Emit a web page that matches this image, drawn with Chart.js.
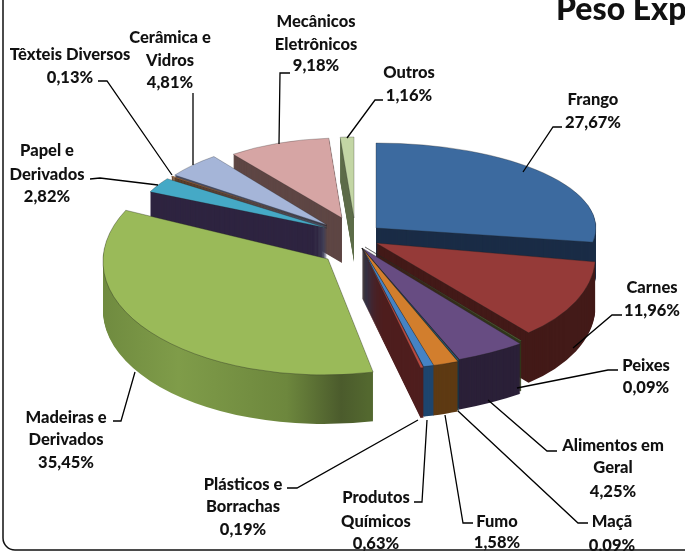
<!DOCTYPE html>
<html lang="pt-BR">
  <head>
    <meta charset="UTF-8" />
    <title>Peso Exportado</title>
    <script src="https://cdn.jsdelivr.net/npm/chart.js@4"></script>
    <style>
      html, body { margin: 0; padding: 0; background: #fff; overflow: hidden; }
      .chart-view { width: 685px; height: 551px; }
    </style>
  </head>
  <body>
    <div class="chart-view">
      <canvas id="chart"></canvas>
    </div>

    <script>
      //data
      const chartTitle = 'Peso Exp';
      const categories = ['Frango', 'Carnes', 'Peixes', 'Alimentos em Geral', 'Maçã', 'Fumo', 'Produtos Químicos',
        'Plásticos e Borrachas', 'Madeiras e Derivados', 'Papel e Derivados', 'Têxteis Diversos', 'Cerâmica e Vidros',
        'Mecânicos Eletrônicos', 'Outros'];
      const shares = [27.67, 11.96, 0.09, 4.25, 0.09, 1.58, 0.63, 0.19, 35.45, 2.82, 0.13, 4.81, 9.18, 1.16];

      //slice colours
      const topColors = ['#3c6a9f', '#953a38', '#5f7a3a', '#674c82', '#2a6f88', '#d27e2d', '#4583c4', '#b8483f',
        '#9aba59', '#45a9c6', '#c0763a', '#a5b5d8', '#d6a5a4', '#c3d6a5'];
      const wallColors = ['#1a2c46', '#431a18', '#2f3d1c', '#2b2038', '#14384a', '#5e3a13', '#1e466e', '#4f1e1e',
        '#6f8a3f', '#2e2440', '#5e3a1c', '#4a5068', '#5e4644', '#5e6e4a'];
      const woodWallStops = [[0, '#6f8a3f'], [0.3, '#7f9c49'], [0.7, '#6d873d'], [0.9, '#4b5b2c'], [1, '#53682f']];
      const woodIndex = 8;

      //3d view: pie centre, then per slice explosion and perspective radii
      const pieCenter = { x: 355, y: 240 };
      const explodeX = [21, 21, 10, 7, 7, 7, 7, 7, -27, -28, -28, -28, -13, -1];
      const explodeY = [-12, 3, 7, 8, 8, 8, 8, 8, 19, -12, -14, -15, -22, -22];
      const radiusX = [220, 218, 258, 263, 263, 263, 265, 265, 225, 195, 190, 187, 180, 190];
      const radiusY = [85, 113, 118, 120, 121, 122, 122, 123, 116, 86, 86, 86, 80, 81];
      const skewX = [0, 0.226, 0, 0, 0, 0, 0, 0, -0.04, 0, 0, 0, 0, 0];
      const depth = [46, 50, 50, 50, 50, 50, 50, 50, 49, 45, 45, 45, 45, 44];
      const drawOrder = [13, 12, 11, 10, 9, 8, 0, 1, 2, 3, 4, 5, 6, 7];

      //callouts
      const calloutLines = [
        { cx: 593, ys: [100, 123], lines: ['Frango', '27,67%'] },
        { cx: 652, ys: [288, 311], lines: ['Carnes', '11,96%'] },
        { cx: 646, ys: [366, 388], lines: ['Peixes', '0,09%'] },
        { cx: 613, ys: [446, 468, 492], lines: ['Alimentos em', 'Geral', '4,25%'] },
        { cx: 612, ys: [522, 546], lines: ['Maçã', '0,09%'] },
        { cx: 497, ys: [522, 543], lines: ['Fumo', '1,58%'] },
        { cx: 376, ys: [498, 522, 544], lines: ['Produtos', 'Químicos', '0,63%'] },
        { cx: 243, ys: [485, 507, 530], lines: ['Plásticos e', 'Borrachas', '0,19%'] },
        { cx: 66, ys: [418, 440, 463], lines: ['Madeiras e', 'Derivados', '35,45%'] },
        { cx: 47, ys: [151, 175, 197], lines: ['Papel e', 'Derivados', '2,82%'] },
        { cx: 70, ys: [55, 78], lines: ['Têxteis Diversos', '0,13%'] },
        { cx: 170, ys: [38, 61, 83], lines: ['Cerâmica e', 'Vidros', '4,81%'] },
        { cx: 316, ys: [22, 45, 66], lines: ['Mecânicos', 'Eletrônicos', '9,18%'] },
        { cx: 409, ys: [73, 96], lines: ['Outros', '1,16%'] }
      ];
      const leaderPaths = [
        [[562, 127], [553, 127], [523, 172]],
        [[622, 315], [612, 315], [573, 348]],
        [[618, 370], [608, 370], [517, 388]],
        [[557, 451], [547, 451], [488, 400]],
        [[588, 523], [578, 523], [458, 411]],
        [[473, 523], [463, 523], [445, 415]],
        [[414, 502], [422, 502], [427, 420]],
        [[287, 488], [297, 488], [418, 420]],
        [[113, 421], [121, 421], [135, 372]],
        [[90, 179], [100, 178], [158, 185]],
        [[98, 81], [107, 81], [172, 175]],
        [[193, 93], [193, 165]],
        [[290, 73], [280, 73], [279, 144]],
        [[383, 100], [375, 100], [347, 138]]
      ];

      //places one arc at its exploded spot, squashed flat
      function placeArc(ctx, arc, i, lift) {
        ctx.translate(pieCenter.x + explodeX[i], pieCenter.y + explodeY[i] + lift);
        ctx.transform(1, 0, skewX[i], 1, 0, 0);
        ctx.scale(radiusX[i] / arc.outerRadius, radiusY[i] / arc.outerRadius);
        ctx.translate(-arc.x, -arc.y);
      }

      //draws every arc element squashed and exploded, with a wall below it
      const pie3d = {
        id: 'pie3d',
        beforeDatasetDraw(chart, args) {
          const ctx = chart.ctx;
          const arcs = args.meta.data;
          drawOrder.forEach(function (i) {
            const arc = arcs[i];
            const topOptions = arc.options;

            let wallFill = wallColors[i];
            if (i === woodIndex) {
              const sx = radiusX[i] / arc.outerRadius;
              const ax = pieCenter.x + explodeX[i];
              const toLocal = function (x) { return arc.x + (x - ax) / sx; };
              wallFill = ctx.createLinearGradient(toLocal(100), 0, toLocal(373), 0);
              woodWallStops.forEach(function (s) { wallFill.addColorStop(s[0], s[1]); });
            }
            arc.options = Object.assign({}, topOptions, { backgroundColor: wallFill, borderWidth: 0 });
            for (let d = depth[i]; d >= 1; d--) {
              ctx.save();
              placeArc(ctx, arc, i, d);
              arc.draw(ctx);
              ctx.restore();
            }
            arc.options = topOptions;

            ctx.save();
            placeArc(ctx, arc, i, 0);
            arc.draw(ctx);
            ctx.restore();
          });
          return false;
        },
        afterDraw(chart) {
          const ctx = chart.ctx;
          ctx.save();

          //frame, only its left and bottom edges are inside the picture
          ctx.strokeStyle = '#111';
          ctx.lineWidth = 1.5;
          ctx.beginPath();
          ctx.roundRect(3, -20, 720, 570, 12);
          ctx.stroke();

          ctx.strokeStyle = '#000';
          ctx.lineWidth = 1.3;
          leaderPaths.forEach(function (path) {
            ctx.beginPath();
            path.forEach(function (p, n) {
              if (n === 0) ctx.moveTo(p[0], p[1]);
              else ctx.lineTo(p[0], p[1]);
            });
            ctx.stroke();
          });

          ctx.fillStyle = '#111';
          ctx.font = '900 16.5px Lato';
          ctx.textAlign = 'center';
          ctx.textBaseline = 'middle';
          calloutLines.forEach(function (c) {
            c.lines.forEach(function (text, n) {
              ctx.fillText(text, c.cx, c.ys[n]);
            });
          });

          ctx.font = '900 32px Lato';
          ctx.textAlign = 'left';
          ctx.textBaseline = 'alphabetic';
          ctx.fillText(chartTitle, 556, 20);
          ctx.restore();
        }
      };

      //config
      const config = {
        type: 'pie',
        data: {
          labels: categories,
          datasets: [{
            data: shares,
            backgroundColor: topColors,
            borderColor: 'rgba(30, 30, 30, 0.55)',
            borderWidth: 1
          }]
        },
        options: {
          responsive: true,
          maintainAspectRatio: false,
          animation: false,
          layout: { padding: 0 },
          plugins: {
            legend: { display: false },
            tooltip: { enabled: false }
          }
        },
        plugins: [pie3d]
      };

      //init
      const chart = new Chart(document.getElementById('chart'), config);
    </script>
  </body>
</html>
